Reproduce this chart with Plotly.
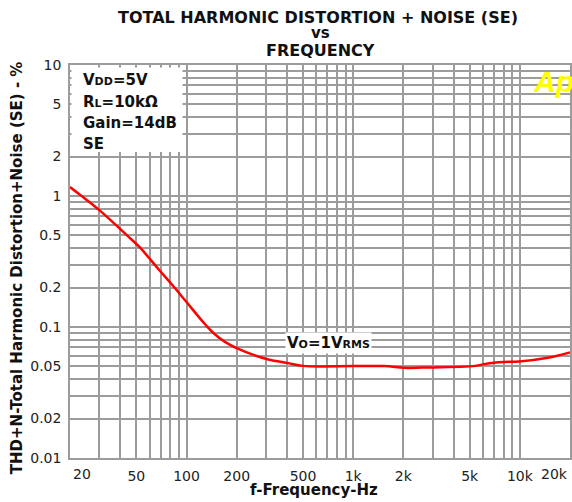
import plotly.graph_objects as go

# ---- data ----
freq_hz = [20, 23, 30, 44, 52, 69, 82, 100, 130, 145, 170, 205, 250, 310, 408,
           500, 1000, 1540, 2030, 2600, 5400, 6300, 8000, 9900, 14400, 20000]
thdn_pct = [1.17, 1.02, 0.78, 0.5, 0.41, 0.27, 0.21, 0.155, 0.104, 0.090,
            0.077, 0.068, 0.0615, 0.0565, 0.053, 0.0505, 0.0503, 0.0503, 0.0488,
            0.049, 0.0505, 0.0525, 0.054, 0.0545, 0.058, 0.064]

x_grid = [20, 30, 40, 50, 60, 70, 80, 90, 100, 200, 300, 400, 500, 600, 700,
          800, 900, 1000, 2000, 3000, 4000, 5000, 6000, 7000, 8000, 9000,
          10000, 20000]
x_labels = {50: "50", 100: "100", 200: "200", 500: "500", 1000: "1k",
            2000: "2k", 5000: "5k", 10000: "10k"}
y_grid = [0.01, 0.02, 0.03, 0.04, 0.05, 0.06, 0.07, 0.08, 0.09, 0.1, 0.2, 0.3,
          0.4, 0.5, 0.6, 0.7, 0.8, 0.9, 1, 2, 3, 4, 5, 6, 7, 8, 9, 10]
y_labels = {0.01: "0.01", 0.02: "0.02", 0.05: "0.05", 0.1: "0.1", 0.2: "0.2",
            0.5: "0.5", 1: "1", 2: "2", 5: "5", 10: "10"}

GRID = "#9c9c9c"
BOLD = "DejaVu Sans"
TICKF = dict(family="DejaVu Sans", size=14, color="#222222")

fig = go.Figure()
fig.add_trace(go.Scatter(x=freq_hz, y=thdn_pct, mode="lines",
                         line=dict(color="#ff0000", width=2.5, shape="spline",
                                   smoothing=1.0),
                         showlegend=False, hoverinfo="skip"))

fig.update_layout(
    width=572, height=502,
    margin=dict(l=70, r=0, t=65, b=44, pad=0),
    paper_bgcolor="white", plot_bgcolor="white",
    showlegend=False,
    xaxis=dict(type="log", range=[1.30103, 4.30103],
               tickvals=x_grid,
               ticktext=[x_labels.get(v, "") for v in x_grid],
               ticks="", showgrid=True, gridcolor=GRID, gridwidth=1.6,
               showline=True, linecolor=GRID, linewidth=1.6, mirror=True,
               zeroline=False, tickfont=TICKF, tickangle=0,
               ticklabelstandoff=4),
    yaxis=dict(type="log", range=[-2, 1],
               tickvals=y_grid,
               ticktext=[y_labels.get(v, "") for v in y_grid],
               ticks="", showgrid=True, gridcolor=GRID, gridwidth=1.6,
               showline=True, linecolor=GRID, linewidth=1.6, mirror=True,
               zeroline=False, tickfont=TICKF, ticklabelstandoff=4),
)

def px_x(px):
    return (px - 70) / 502.0

def px_y(py):
    return (458.0 - py) / 393.0

ann = []
# titles
ann.append(dict(text="TOTAL HARMONIC DISTORTION + NOISE (SE)", x=px_x(319), y=px_y(17),
                font=dict(family=BOLD, size=16, color="#111111", weight="bold")))
ann.append(dict(text="vs", x=px_x(321), y=px_y(33),
                font=dict(family=BOLD, size=15, color="#111111", weight="bold")))
ann.append(dict(text="FREQUENCY", x=px_x(321), y=px_y(50),
                font=dict(family=BOLD, size=16, color="#111111", weight="bold")))
# axis titles
ann.append(dict(text="f-Frequency-Hz", x=px_x(315), y=px_y(490),
                font=dict(family=BOLD, size=15, color="#111111", weight="bold")))
ann.append(dict(text="THD+N-Total Harmonic Distortion+Noise (SE) - %", x=px_x(17),
                y=px_y(268), textangle=-90,
                font=dict(family=BOLD, size=15, color="#111111", weight="bold")))
# edge tick labels
ann.append(dict(text="20", x=px_x(71), y=px_y(474), xanchor="left", font=TICKF))
ann.append(dict(text="20k", x=px_x(572), y=px_y(474), xanchor="right", font=TICKF))
# conditions box
small = "<span style='font-size:11px'>%s</span>"
cond_lines = ["V" + small % "DD" + "=5V", "R" + small % "L" + "=10kΩ",
              "Gain=14dB", "SE"]
cond_y = [80, 102, 123, 144]
for t, yy in zip(cond_lines, cond_y):
    ann.append(dict(text=t, x=px_x(81), y=px_y(yy), xanchor="left",
                    font=dict(family=BOLD, size=15, color="#111111", weight="bold")))
# Vo label
ann.append(dict(text="V" + small % "O" + "=1V" + small % "RMS", x=px_x(330), y=px_y(343),
                bgcolor="white", borderpad=1,
                font=dict(family=BOLD, size=15, color="#111111", weight="bold")))
# Ap logo
ann.append(dict(text="<i>Ap</i>", x=px_x(533), y=px_y(81), xanchor="left",
                font=dict(family="Liberation Sans", size=30, color="#ffff00", weight="bold")))

for a in ann:
    a.setdefault("xref", "paper")
    a.setdefault("yref", "paper")
    a.setdefault("showarrow", False)
    a.setdefault("xanchor", "center")
    a.setdefault("yanchor", "middle")
fig.update_layout(annotations=ann)

fig.add_shape(type="rect", xref="paper", yref="paper",
              x0=px_x(71.5), x1=px_x(183), y0=px_y(152), y1=px_y(67.5),
              fillcolor="white", line=dict(width=0), layer="above")

fig.write_html("out.html", config={"displayModeBar": False},
               post_script="document.body.style.margin='0';document.body.style.padding='0';")
